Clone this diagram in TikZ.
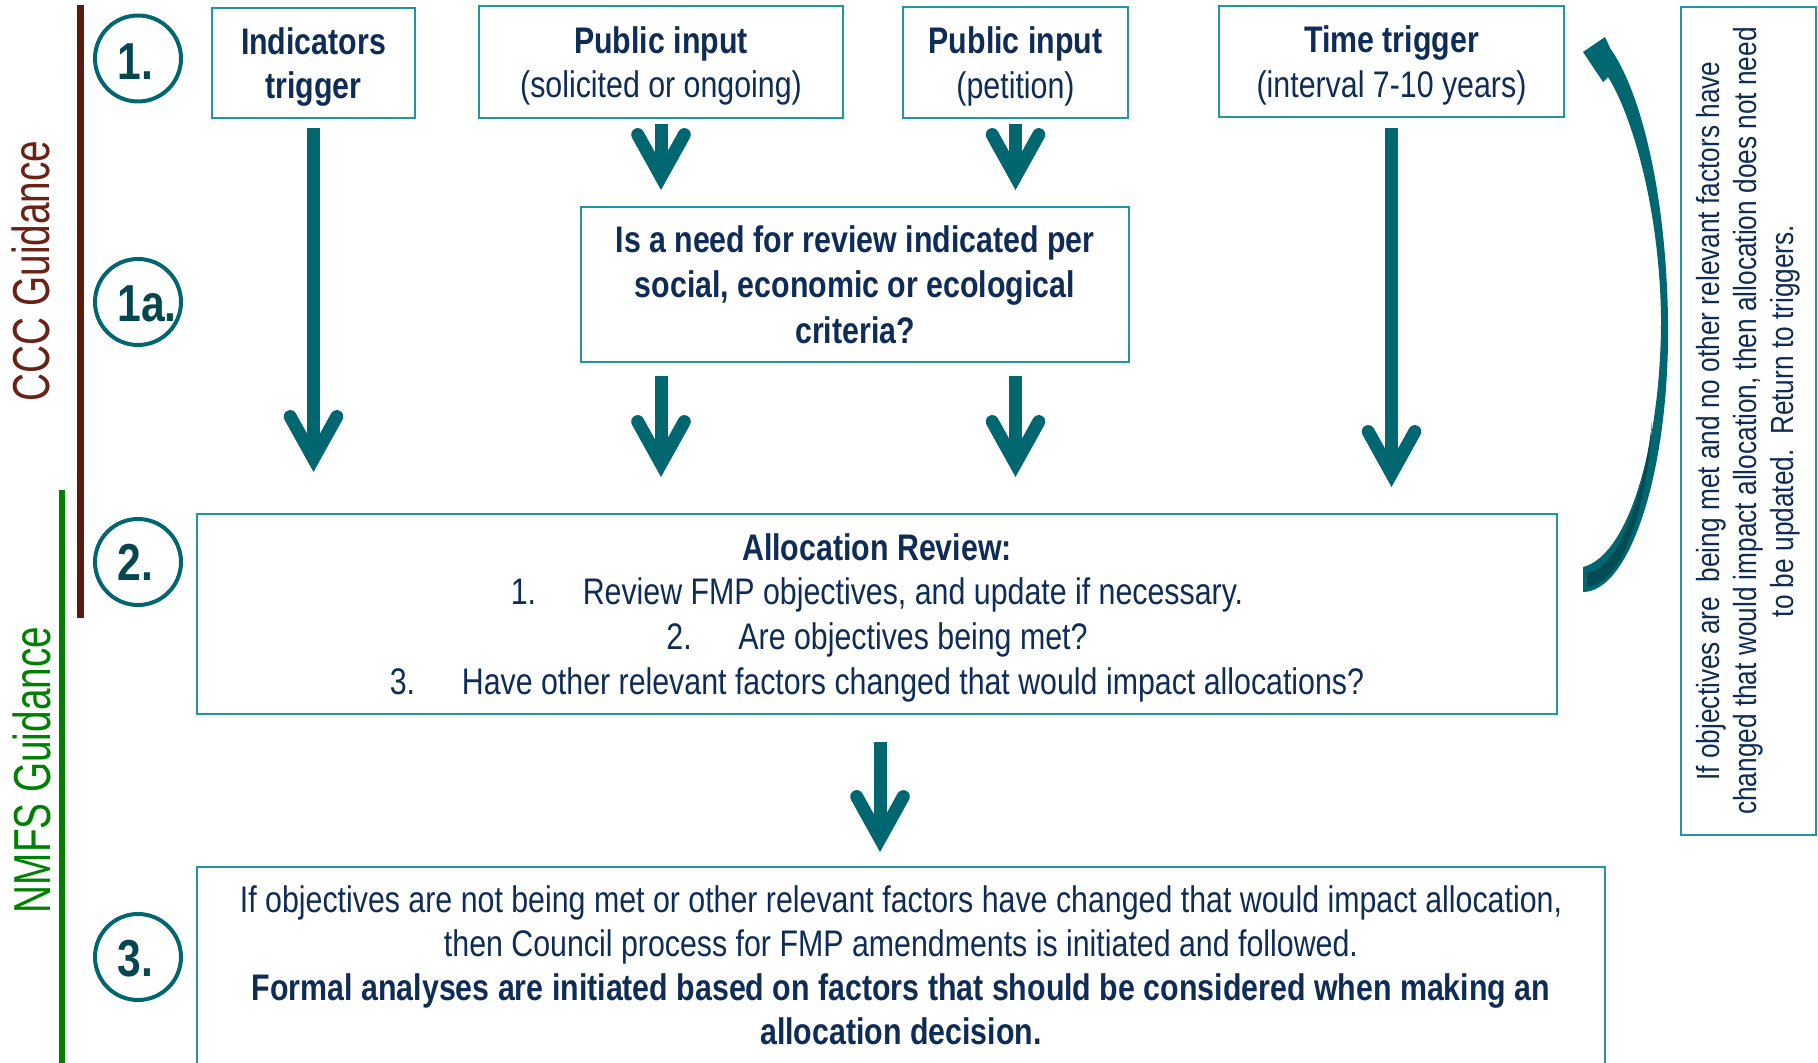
\documentclass[tikz,border=0pt]{standalone}
\usepackage{fontspec}
\setmainfont{Liberation Sans}
\newfontfamily\nar[FakeStretch=0.82]{Liberation Sans}
\newfontfamily\guid[FakeStretch=0.745]{Liberation Sans}
\usetikzlibrary{arrows.meta}
\definecolor{txt}{HTML}{0E2C55}
\definecolor{numc}{HTML}{05464F}
\definecolor{arr}{HTML}{006670}
\definecolor{arrdark}{HTML}{004C55}
\definecolor{boxc}{HTML}{2196A0}
\definecolor{brownc}{HTML}{5A1A0E}
\definecolor{brownt}{HTML}{6B2215}
\definecolor{greenc}{HTML}{008000}
\newcommand{\upstrut}[1]{\rule{0pt}{#1}}
\begin{document}
\begin{tikzpicture}[x=0.5pt,y=-0.5pt,
  box/.style={draw=boxc, line width=1pt, inner sep=0pt, align=center, text=txt},
  ftwo/.style={font=\nar\fontsize{18.5}{22.25}\selectfont},
  num/.style={anchor=base west, inner sep=0pt, text=numc, font=\nar\bfseries\fontsize{26}{26}\selectfont},
  ring/.style={circle, draw=arr, line width=2pt, minimum size=43pt, inner sep=0pt},
  bigarrow/.style={draw=arr, line width=6.5pt, -{Straight Barb[length=21pt, width=23.3pt, line cap=round, line join=miter]}},
  guide/.style={rotate=90, anchor=base, inner sep=0pt, font=\guid\fontsize{26}{26}\selectfont}
]
\fill[white] (0,0) rectangle (1818,1063);
\useasboundingbox (0,0) rectangle (1818,1063);

% side bars and labels
\draw[brownc, line width=3.3pt] (80.5,5) -- (80.5,617.5);
\draw[greenc, line width=3pt] (62,490) -- (62,1063);
\node[guide, text=brownt] (ccc) at (49.5,271) {CCC Guidance};
\node[guide, text=greenc] (nmfs) at (50.5,770) {NMFS Guidance};

% step circles
\node[ring] (c1) at (138,58.5) {};
\node[num] (t1) at (117,80) {1.};
\node[ring] (c1a) at (138,302) {};
\node[num] (t1a) at (117,322) {1a.};
\node[ring] (c2) at (138,562) {};
\node[num] (t2) at (117,580) {2.};
\node[ring] (c3) at (138,957) {};
\node[num] (t3) at (117,976) {3.};

% boxes
\node[box, ftwo, minimum width=101.5pt, minimum height=55pt] (ind) at (313.5,63)
  {\upstrut{17.5pt}\textbf{Indicators}\\\textbf{trigger}};
\node[box, ftwo, minimum width=182pt, minimum height=56pt] (pub1) at (661,62)
  {\upstrut{17.5pt}\textbf{Public input}\\(solicited or ongoing)};
\node[box, ftwo, minimum width=112.5pt, minimum height=55.5pt] (pub2) at (1015.5,62.5)
  {\upstrut{17.5pt}\textbf{Public input}\\(petition)};
\node[box, ftwo, minimum width=172.5pt, minimum height=55.5pt] (time) at (1391.5,61.5)
  {\upstrut{17.5pt}\textbf{Time trigger}\\(interval 7-10 years)};
\node[box, font=\nar\fontsize{18.5}{22.75}\selectfont, minimum width=274pt, minimum height=77.5pt] (q) at (855,284.5)
  {\textbf{Is a need for review indicated per}\\\textbf{social, economic or ecological}\\\textbf{criteria?}};
\node[box, font=\nar\fontsize{18.5}{22.3}\selectfont, minimum width=680pt, minimum height=100pt] (alloc) at (877,614)
  {\upstrut{17pt}\textbf{Allocation Review:}\\
   \makebox[36pt][l]{1.}Review FMP objectives, and update if necessary.\\
   \makebox[36pt][l]{2.}Are objectives being met?\\
   \makebox[36pt][l]{3.}Have other relevant factors changed that would impact allocations?};
\node[box, font=\nar\fontsize{18.5}{22}\selectfont, anchor=north, minimum width=704pt, inner ysep=9.5pt] (bot) at (901,866)
  {If objectives are not being met or other relevant factors have changed that would impact allocation,\\
   then Council process for FMP amendments is initiated and followed.\\
   \textbf{Formal analyses are initiated based on factors that should be considered when making an}\\
   \textbf{allocation decision.}\rule[-30pt]{0pt}{30pt}};
\node[box, rotate=90, font=\nar\fontsize{16}{18.5}\selectfont, minimum width=414pt, minimum height=67.5pt] (side) at (1748.5,421)
  {If objectives are\ \ being met and no other relevant factors have\\
   changed that would impact allocation,\ then allocation does not need\\
   to be updated.\ \ Return to triggers.};

% straight arrows
\draw[bigarrow, shorten <=4.5pt, shorten >=20.5pt] (ind.south) -- (ind.south |- alloc.north);
\draw[bigarrow, shorten <=2.5pt, shorten >=8pt] (pub1.south) -- (pub1.south |- q.north);
\draw[bigarrow, shorten <=2.5pt, shorten >=8pt] (pub2.south) -- (pub2.south |- q.north);
\draw[bigarrow, shorten <=6.5pt, shorten >=18pt] (pub1.south |- q.south) -- (pub1.south |- alloc.north);
\draw[bigarrow, shorten <=6.5pt, shorten >=18pt] (pub2.south |- q.south) -- (pub2.south |- alloc.north);
\draw[bigarrow, shorten <=5pt, shorten >=13pt] (time.south) -- (time.south |- alloc.north);
\draw[bigarrow, shorten <=13.5pt, shorten >=7pt] ([xshift=1.5pt]alloc.south) -- ([xshift=1.5pt]alloc.south |- bot.north);

% curved return arrow
\fill[arr] (1583,592) .. controls (1630,592) and (1670,470) .. (1668,320)
  .. controls (1666,190) and (1640,90) .. (1610,48)
  -- (1605,37) -- (1583,52) -- (1603,82) -- (1608,77)
  .. controls (1632,115) and (1660,210) .. (1661,320)
  .. controls (1661,440) and (1630,555) .. (1583,567) -- cycle;
\fill[arrdark] (1587,573) .. controls (1625,568) and (1648,470) .. (1652,420)
  .. controls (1650,480) and (1630,582) .. (1587,587) -- cycle;
\end{tikzpicture}
\end{document}
